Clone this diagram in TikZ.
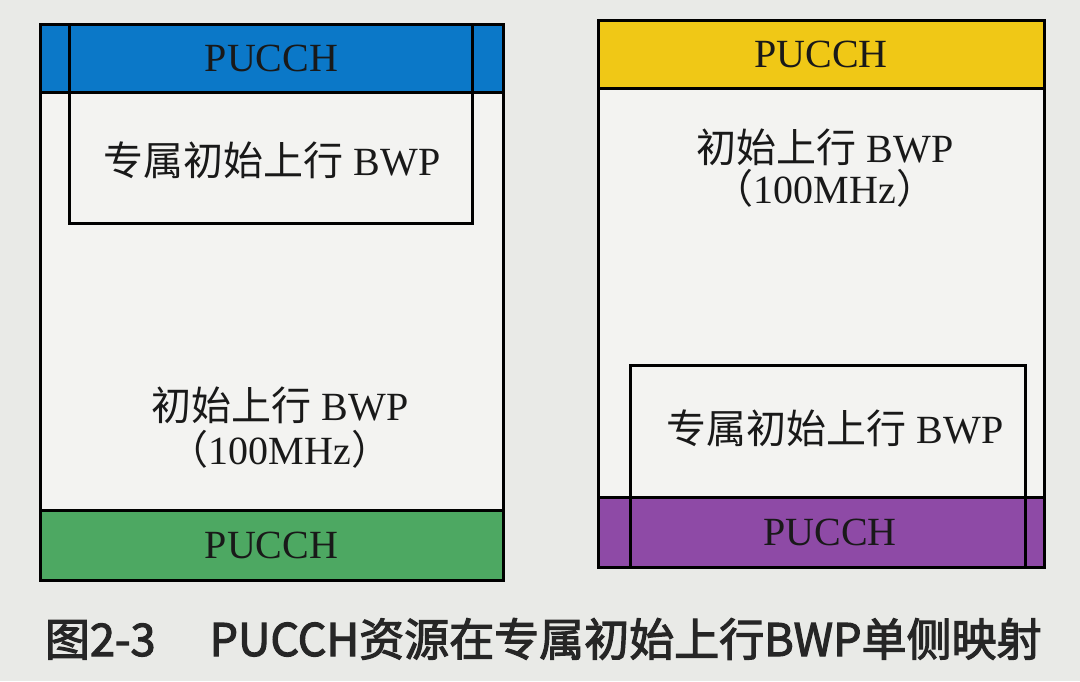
\documentclass[tikz,border=0pt]{standalone}
\usepackage{fontspec}
\setmainfont{Liberation Serif}
\newfontfamily\cjk{Noto Sans CJK SC}
\newfontfamily\capfont{Noto Sans CJK SC}[FakeBold=2.5]
\definecolor{paper}{RGB}{233,234,231}
\definecolor{boxbg}{RGB}{243,243,241}
\definecolor{pucchblue}{RGB}{11,120,200}
\definecolor{pucchgreen}{RGB}{77,168,98}
\definecolor{pucchyellow}{RGB}{240,200,22}
\definecolor{pucchpurple}{RGB}{142,74,166}
\begin{document}
\begin{tikzpicture}[x=1pt, y=-1pt,
    every node/.style={inner sep=0pt, outer sep=0pt},
    frame/.style={draw, line width=3pt, fill=boxbg, minimum width=#1},
    band/.style={fill=#1, minimum height=69pt},
    edge/.style={draw, line width=3pt},
    lbl/.style={font=\fontsize{40}{46}\selectfont, text=black!90}]
  \fill[paper] (0,0) rectangle (1080,681);
  \useasboundingbox (0,0) rectangle (1080,681);

  % left: BWP with PUCCH on both edges
  \node[frame=463pt, minimum height=556pt] (lbwp) at (271.5,302) {};
  \node[band=pucchblue, minimum width=463pt] (lpucchtop) at (271.5,58) {};
  \node[band=pucchgreen, minimum width=463pt] (lpucchbot) at (271.5,545) {};
  \node[edge, minimum width=403pt, minimum height=199pt] (ldedic) at (270.5,123.5) {};
  \node[edge, minimum width=463pt, minimum height=556pt] (lframe) at (271.5,302) {};
  \draw[line width=3pt] (lpucchtop.south west) -- (lpucchtop.south east);
  \draw[line width=3pt] (lpucchbot.north west) -- (lpucchbot.north east);
  \node[lbl] (ltoptxt) at (lpucchtop) {PUCCH};
  \node[lbl] (lbottxt) at (lpucchbot) {PUCCH};
  \node[lbl] (ldedictxt) at (272,160) {{\cjk 专属初始上行} BWP};
  \node[lbl] (linittxt) at (280,405) {{\cjk 初始上行} BWP};
  \node[lbl] (lbwtxt) at (280,449) {{\cjk （}100MHz{\cjk ）}};

  % right: PUCCH on one side of the dedicated BWP
  \node[frame=446pt, minimum height=547pt] (rbwp) at (821,293.5) {};
  \node[band=pucchyellow, minimum width=446pt] (rpucchtop) at (821,54) {};
  \node[band=pucchpurple, minimum width=446pt] (rpucchbot) at (821,532) {};
  \node[edge, minimum width=395pt, minimum height=202pt] (rdedic) at (827.5,466) {};
  \node[edge, minimum width=446pt, minimum height=547pt] (rframe) at (821,293.5) {};
  \draw[line width=3pt] (rpucchtop.south west) -- (rpucchtop.south east);
  \draw[line width=3pt] (rpucchbot.north west) -- (rpucchbot.north east);
  \node[lbl] (rtoptxt) at (rpucchtop) {PUCCH};
  \node[lbl] (rbottxt) at (830,532) {PUCCH};
  \node[lbl] (rinittxt) at (825,147) {{\cjk 初始上行} BWP};
  \node[lbl] (rbwtxt) at (825,188) {{\cjk （}100MHz{\cjk ）}};
  \node[lbl] (rdedictxt) at (835,428) {{\cjk 专属初始上行} BWP};

  \node[anchor=base west, font=\capfont\fontsize{45}{50}\selectfont, text=black!85] (caption) at (45,656)
    {图2-3\hspace{1.2em}PUCCH资源在专属初始上行BWP单侧映射};
\end{tikzpicture}
\end{document}
